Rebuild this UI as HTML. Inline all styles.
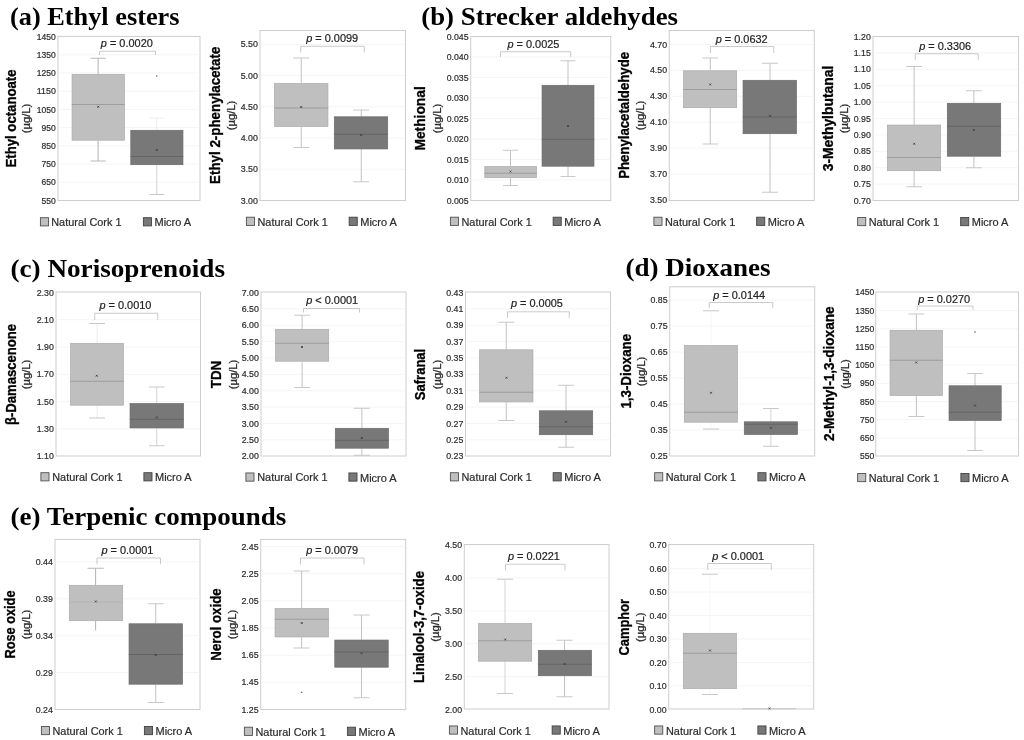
<!DOCTYPE html>
<html lang="en">
<head>
<meta charset="utf-8">
<title>Volatile compounds box plots</title>
<style>
html,body{margin:0;padding:0;background:#fff;}
body{width:1024px;height:740px;overflow:hidden;font-family:"Liberation Sans",sans-serif;}
svg{display:block;filter:blur(0.4px);}
svg text{font-family:"Liberation Sans",sans-serif;}
svg text.ttl{font-family:"Liberation Serif",serif;}
</style>
</head>
<body>
<svg width="1024" height="740" viewBox="0 0 1024 740">
<rect x="0" y="0" width="1024" height="740" fill="#ffffff"/>
<g>
<rect x="58" y="36.4" width="142" height="164.1" fill="#fff" stroke="#cdcdcd" stroke-width="1"/>
<text x="55.8" y="39.62" font-size="9" fill="#2c2c2c" stroke="#2c2c2c" stroke-width="0.2" text-anchor="end" textLength="19" lengthAdjust="spacingAndGlyphs">1450</text>
<line x1="58.5" y1="54.72" x2="199.5" y2="54.72" stroke="#f3f3f3" stroke-width="0.8"/>
<text x="55.8" y="57.84" font-size="9" fill="#2c2c2c" stroke="#2c2c2c" stroke-width="0.2" text-anchor="end" textLength="19" lengthAdjust="spacingAndGlyphs">1350</text>
<line x1="58.5" y1="72.94" x2="199.5" y2="72.94" stroke="#f3f3f3" stroke-width="0.8"/>
<text x="55.8" y="76.07" font-size="9" fill="#2c2c2c" stroke="#2c2c2c" stroke-width="0.2" text-anchor="end" textLength="19" lengthAdjust="spacingAndGlyphs">1250</text>
<line x1="58.5" y1="91.17" x2="199.5" y2="91.17" stroke="#f3f3f3" stroke-width="0.8"/>
<text x="55.8" y="94.29" font-size="9" fill="#2c2c2c" stroke="#2c2c2c" stroke-width="0.2" text-anchor="end" textLength="19" lengthAdjust="spacingAndGlyphs">1150</text>
<line x1="58.5" y1="109.39" x2="199.5" y2="109.39" stroke="#f3f3f3" stroke-width="0.8"/>
<text x="55.8" y="112.51" font-size="9" fill="#2c2c2c" stroke="#2c2c2c" stroke-width="0.2" text-anchor="end" textLength="19" lengthAdjust="spacingAndGlyphs">1050</text>
<line x1="58.5" y1="127.61" x2="199.5" y2="127.61" stroke="#f3f3f3" stroke-width="0.8"/>
<text x="55.8" y="130.73" font-size="9" fill="#2c2c2c" stroke="#2c2c2c" stroke-width="0.2" text-anchor="end" textLength="14.25" lengthAdjust="spacingAndGlyphs">950</text>
<line x1="58.5" y1="145.83" x2="199.5" y2="145.83" stroke="#f3f3f3" stroke-width="0.8"/>
<text x="55.8" y="148.96" font-size="9" fill="#2c2c2c" stroke="#2c2c2c" stroke-width="0.2" text-anchor="end" textLength="14.25" lengthAdjust="spacingAndGlyphs">850</text>
<line x1="58.5" y1="164.06" x2="199.5" y2="164.06" stroke="#f3f3f3" stroke-width="0.8"/>
<text x="55.8" y="167.18" font-size="9" fill="#2c2c2c" stroke="#2c2c2c" stroke-width="0.2" text-anchor="end" textLength="14.25" lengthAdjust="spacingAndGlyphs">750</text>
<line x1="58.5" y1="182.28" x2="199.5" y2="182.28" stroke="#f3f3f3" stroke-width="0.8"/>
<text x="55.8" y="185.4" font-size="9" fill="#2c2c2c" stroke="#2c2c2c" stroke-width="0.2" text-anchor="end" textLength="14.25" lengthAdjust="spacingAndGlyphs">650</text>
<text x="55.8" y="203.62" font-size="9" fill="#2c2c2c" stroke="#2c2c2c" stroke-width="0.2" text-anchor="end" textLength="14.25" lengthAdjust="spacingAndGlyphs">550</text>
<line x1="98.12" y1="58.25" x2="98.12" y2="74" stroke="#b2b2b2" stroke-width="1"/>
<line x1="98.12" y1="140.5" x2="98.12" y2="161" stroke="#b2b2b2" stroke-width="1"/>
<line x1="90.5" y1="58.25" x2="105.75" y2="58.25" stroke="#b2b2b2" stroke-width="0.9"/>
<line x1="90.5" y1="161" x2="105.75" y2="161" stroke="#b2b2b2" stroke-width="0.9"/>
<rect x="72.05" y="74.3" width="52.4" height="65.9" fill="#bfbfbf" stroke="#ababab" stroke-width="0.7"/>
<line x1="71.75" y1="104.5" x2="124.75" y2="104.5" stroke="#959595" stroke-width="0.8"/>
<path d="M97.35 105.85L99.15 107.65M97.35 107.65L99.15 105.85" stroke="#3a3a3a" stroke-width="0.85" fill="none"/>
<line x1="156.75" y1="118" x2="156.75" y2="130" stroke="#ececec" stroke-width="1"/>
<line x1="156.75" y1="165" x2="156.75" y2="194.5" stroke="#d4d4d4" stroke-width="1"/>
<line x1="149.25" y1="118" x2="164.25" y2="118" stroke="#ececec" stroke-width="0.9"/>
<line x1="149.25" y1="194.5" x2="164.25" y2="194.5" stroke="#c2c2c2" stroke-width="0.9"/>
<rect x="130.8" y="130.3" width="52.15" height="34.4" fill="#787878" stroke="#6a6a6a" stroke-width="0.7"/>
<line x1="130.5" y1="156.5" x2="183.25" y2="156.5" stroke="#5f5f5f" stroke-width="0.8"/>
<path d="M155.85 149.1L157.65 150.9M155.85 150.9L157.65 149.1" stroke="#3a3a3a" stroke-width="0.85" fill="none"/>
<circle cx="156.75" cy="76" r="0.75" fill="#555"/>
<path d="M99.5 55V51.25H155.5V55" fill="none" stroke="#b8b8b8" stroke-width="0.75"/>
<text x="126.8" y="46.7" font-size="10.8" fill="#222222" stroke="#222" stroke-width="0.2" text-anchor="middle" textLength="52" lengthAdjust="spacingAndGlyphs"><tspan font-style="italic">p</tspan> = 0.0020</text>
<text transform="translate(15.5 118.5) rotate(-90)" font-size="13.8" font-weight="bold" fill="#000" stroke="#000" stroke-width="0.3" text-anchor="middle" textLength="97.9" lengthAdjust="spacingAndGlyphs">Ethyl octanoate</text>
<text transform="translate(30.1 118.5) rotate(-90)" font-size="11.6" fill="#2a2a2a" stroke="#2a2a2a" stroke-width="0.3" text-anchor="middle" textLength="29.6" lengthAdjust="spacingAndGlyphs">(µg/L)</text>
<rect x="40.4" y="217.7" width="8.1" height="8.2" fill="#bfbfbf" stroke="#505050" stroke-width="0.9"/>
<text x="51.25" y="226" font-size="10.6" fill="#2c2c2c" stroke="#2c2c2c" stroke-width="0.2" textLength="70.2" lengthAdjust="spacingAndGlyphs">Natural Cork 1</text>
<rect x="143.4" y="217.7" width="8.1" height="8.2" fill="#787878" stroke="#424242" stroke-width="0.9"/>
<text x="154.5" y="226.4" font-size="10.6" fill="#2c2c2c" stroke="#2c2c2c" stroke-width="0.2" textLength="36.7" lengthAdjust="spacingAndGlyphs">Micro A</text>
</g>
<g>
<rect x="260" y="30.5" width="145.5" height="170" fill="#fff" stroke="#cdcdcd" stroke-width="1"/>
<line x1="260.5" y1="44.25" x2="405" y2="44.25" stroke="#f3f3f3" stroke-width="0.8"/>
<text x="257.8" y="47.37" font-size="9" fill="#2c2c2c" stroke="#2c2c2c" stroke-width="0.2" text-anchor="end" textLength="17.15" lengthAdjust="spacingAndGlyphs">5.50</text>
<line x1="260.5" y1="75.5" x2="405" y2="75.5" stroke="#f3f3f3" stroke-width="0.8"/>
<text x="257.8" y="78.62" font-size="9" fill="#2c2c2c" stroke="#2c2c2c" stroke-width="0.2" text-anchor="end" textLength="17.15" lengthAdjust="spacingAndGlyphs">5.00</text>
<line x1="260.5" y1="106.75" x2="405" y2="106.75" stroke="#f3f3f3" stroke-width="0.8"/>
<text x="257.8" y="109.87" font-size="9" fill="#2c2c2c" stroke="#2c2c2c" stroke-width="0.2" text-anchor="end" textLength="17.15" lengthAdjust="spacingAndGlyphs">4.50</text>
<line x1="260.5" y1="138" x2="405" y2="138" stroke="#f3f3f3" stroke-width="0.8"/>
<text x="257.8" y="141.12" font-size="9" fill="#2c2c2c" stroke="#2c2c2c" stroke-width="0.2" text-anchor="end" textLength="17.15" lengthAdjust="spacingAndGlyphs">4.00</text>
<line x1="260.5" y1="169.25" x2="405" y2="169.25" stroke="#f3f3f3" stroke-width="0.8"/>
<text x="257.8" y="172.37" font-size="9" fill="#2c2c2c" stroke="#2c2c2c" stroke-width="0.2" text-anchor="end" textLength="17.15" lengthAdjust="spacingAndGlyphs">3.50</text>
<text x="257.8" y="203.62" font-size="9" fill="#2c2c2c" stroke="#2c2c2c" stroke-width="0.2" text-anchor="end" textLength="17.15" lengthAdjust="spacingAndGlyphs">3.00</text>
<line x1="301.25" y1="58" x2="301.25" y2="83.25" stroke="#c2c2c2" stroke-width="1"/>
<line x1="301.25" y1="126.75" x2="301.25" y2="147.5" stroke="#c2c2c2" stroke-width="1"/>
<line x1="293.25" y1="58" x2="309.25" y2="58" stroke="#c2c2c2" stroke-width="0.9"/>
<line x1="293.25" y1="147.5" x2="309.25" y2="147.5" stroke="#c2c2c2" stroke-width="0.9"/>
<rect x="274.55" y="83.55" width="53.4" height="42.9" fill="#bfbfbf" stroke="#ababab" stroke-width="0.7"/>
<line x1="274.25" y1="108" x2="328.25" y2="108" stroke="#959595" stroke-width="0.8"/>
<path d="M300.35 106.1L302.15 107.9M300.35 107.9L302.15 106.1" stroke="#3a3a3a" stroke-width="0.85" fill="none"/>
<line x1="361.25" y1="110" x2="361.25" y2="116.5" stroke="#c2c2c2" stroke-width="1"/>
<line x1="361.25" y1="149.25" x2="361.25" y2="181.75" stroke="#c2c2c2" stroke-width="1"/>
<line x1="353.25" y1="110" x2="369.25" y2="110" stroke="#c2c2c2" stroke-width="0.9"/>
<line x1="353.25" y1="181.75" x2="369.25" y2="181.75" stroke="#c2c2c2" stroke-width="0.9"/>
<rect x="334.3" y="116.8" width="53.4" height="32.15" fill="#787878" stroke="#6a6a6a" stroke-width="0.7"/>
<line x1="334" y1="134.25" x2="388" y2="134.25" stroke="#5f5f5f" stroke-width="0.8"/>
<path d="M360.35 134.1L362.15 135.9M360.35 135.9L362.15 134.1" stroke="#3a3a3a" stroke-width="0.85" fill="none"/>
<path d="M300.75 52.5V46.25H364.25V52.5" fill="none" stroke="#b8b8b8" stroke-width="0.75"/>
<text x="332.15" y="42.2" font-size="10.8" fill="#222222" stroke="#222" stroke-width="0.2" text-anchor="middle" textLength="52" lengthAdjust="spacingAndGlyphs"><tspan font-style="italic">p</tspan> = 0.0099</text>
<text transform="translate(219.6 115.3) rotate(-90)" font-size="13.8" font-weight="bold" fill="#000" stroke="#000" stroke-width="0.3" text-anchor="middle" textLength="137.2" lengthAdjust="spacingAndGlyphs">Ethyl 2-phenylacetate</text>
<text transform="translate(235.45 115.5) rotate(-90)" font-size="11.6" fill="#2a2a2a" stroke="#2a2a2a" stroke-width="0.3" text-anchor="middle" textLength="29.6" lengthAdjust="spacingAndGlyphs">(µg/L)</text>
<rect x="246.4" y="217.2" width="8.1" height="8.2" fill="#bfbfbf" stroke="#505050" stroke-width="0.9"/>
<text x="257.5" y="225.7" font-size="10.6" fill="#2c2c2c" stroke="#2c2c2c" stroke-width="0.2" textLength="70.2" lengthAdjust="spacingAndGlyphs">Natural Cork 1</text>
<rect x="349.15" y="217.2" width="8.1" height="8.2" fill="#787878" stroke="#424242" stroke-width="0.9"/>
<text x="360.25" y="226.1" font-size="10.6" fill="#2c2c2c" stroke="#2c2c2c" stroke-width="0.2" textLength="36.7" lengthAdjust="spacingAndGlyphs">Micro A</text>
</g>
<g>
<rect x="470.75" y="36.5" width="140" height="164" fill="#fff" stroke="#cdcdcd" stroke-width="1"/>
<text x="468.55" y="39.62" font-size="9" fill="#2c2c2c" stroke="#2c2c2c" stroke-width="0.2" text-anchor="end" textLength="21.9" lengthAdjust="spacingAndGlyphs">0.045</text>
<line x1="471.25" y1="57" x2="610.25" y2="57" stroke="#f3f3f3" stroke-width="0.8"/>
<text x="468.55" y="60.12" font-size="9" fill="#2c2c2c" stroke="#2c2c2c" stroke-width="0.2" text-anchor="end" textLength="21.9" lengthAdjust="spacingAndGlyphs">0.040</text>
<line x1="471.25" y1="77.5" x2="610.25" y2="77.5" stroke="#f3f3f3" stroke-width="0.8"/>
<text x="468.55" y="80.62" font-size="9" fill="#2c2c2c" stroke="#2c2c2c" stroke-width="0.2" text-anchor="end" textLength="21.9" lengthAdjust="spacingAndGlyphs">0.035</text>
<line x1="471.25" y1="98" x2="610.25" y2="98" stroke="#f3f3f3" stroke-width="0.8"/>
<text x="468.55" y="101.12" font-size="9" fill="#2c2c2c" stroke="#2c2c2c" stroke-width="0.2" text-anchor="end" textLength="21.9" lengthAdjust="spacingAndGlyphs">0.030</text>
<line x1="471.25" y1="118.5" x2="610.25" y2="118.5" stroke="#f3f3f3" stroke-width="0.8"/>
<text x="468.55" y="121.62" font-size="9" fill="#2c2c2c" stroke="#2c2c2c" stroke-width="0.2" text-anchor="end" textLength="21.9" lengthAdjust="spacingAndGlyphs">0.025</text>
<line x1="471.25" y1="139" x2="610.25" y2="139" stroke="#f3f3f3" stroke-width="0.8"/>
<text x="468.55" y="142.12" font-size="9" fill="#2c2c2c" stroke="#2c2c2c" stroke-width="0.2" text-anchor="end" textLength="21.9" lengthAdjust="spacingAndGlyphs">0.020</text>
<line x1="471.25" y1="159.5" x2="610.25" y2="159.5" stroke="#f3f3f3" stroke-width="0.8"/>
<text x="468.55" y="162.62" font-size="9" fill="#2c2c2c" stroke="#2c2c2c" stroke-width="0.2" text-anchor="end" textLength="21.9" lengthAdjust="spacingAndGlyphs">0.015</text>
<line x1="471.25" y1="180" x2="610.25" y2="180" stroke="#f3f3f3" stroke-width="0.8"/>
<text x="468.55" y="183.12" font-size="9" fill="#2c2c2c" stroke="#2c2c2c" stroke-width="0.2" text-anchor="end" textLength="21.9" lengthAdjust="spacingAndGlyphs">0.010</text>
<text x="468.55" y="203.62" font-size="9" fill="#2c2c2c" stroke="#2c2c2c" stroke-width="0.2" text-anchor="end" textLength="21.9" lengthAdjust="spacingAndGlyphs">0.005</text>
<line x1="510.5" y1="150.25" x2="510.5" y2="166.25" stroke="#c2c2c2" stroke-width="1"/>
<line x1="510.5" y1="178" x2="510.5" y2="185.5" stroke="#c2c2c2" stroke-width="1"/>
<line x1="503" y1="150.25" x2="518" y2="150.25" stroke="#c2c2c2" stroke-width="0.9"/>
<line x1="503" y1="185.5" x2="518" y2="185.5" stroke="#c2c2c2" stroke-width="0.9"/>
<rect x="484.8" y="166.55" width="51.65" height="11.15" fill="#bfbfbf" stroke="#ababab" stroke-width="0.7"/>
<line x1="484.5" y1="173.25" x2="536.75" y2="173.25" stroke="#959595" stroke-width="0.8"/>
<path d="M509.6 170.6L511.4 172.4M509.6 172.4L511.4 170.6" stroke="#3a3a3a" stroke-width="0.85" fill="none"/>
<line x1="568" y1="60.75" x2="568" y2="85" stroke="#c2c2c2" stroke-width="1"/>
<line x1="568" y1="166.5" x2="568" y2="176.5" stroke="#c2c2c2" stroke-width="1"/>
<line x1="560.5" y1="60.75" x2="575.5" y2="60.75" stroke="#c2c2c2" stroke-width="0.9"/>
<line x1="560.5" y1="176.5" x2="575.5" y2="176.5" stroke="#c2c2c2" stroke-width="0.9"/>
<rect x="542.05" y="85.3" width="51.9" height="80.9" fill="#787878" stroke="#6a6a6a" stroke-width="0.7"/>
<line x1="541.75" y1="139.25" x2="594.25" y2="139.25" stroke="#5f5f5f" stroke-width="0.8"/>
<path d="M567.1 125.1L568.9 126.9M567.1 126.9L568.9 125.1" stroke="#3a3a3a" stroke-width="0.85" fill="none"/>
<path d="M500.5 57V51.75H570.75V57" fill="none" stroke="#b8b8b8" stroke-width="0.75"/>
<text x="533.4" y="48.4" font-size="10.8" fill="#222222" stroke="#222" stroke-width="0.2" text-anchor="middle" textLength="52" lengthAdjust="spacingAndGlyphs"><tspan font-style="italic">p</tspan> = 0.0025</text>
<text transform="translate(425.1 118.4) rotate(-90)" font-size="13.8" font-weight="bold" fill="#000" stroke="#000" stroke-width="0.3" text-anchor="middle" textLength="64.45" lengthAdjust="spacingAndGlyphs">Methional</text>
<text transform="translate(440.95 118.5) rotate(-90)" font-size="11.6" fill="#2a2a2a" stroke="#2a2a2a" stroke-width="0.3" text-anchor="middle" textLength="29.6" lengthAdjust="spacingAndGlyphs">(µg/L)</text>
<rect x="450.4" y="217.2" width="8.1" height="8.2" fill="#bfbfbf" stroke="#505050" stroke-width="0.9"/>
<text x="461.5" y="225.7" font-size="10.6" fill="#2c2c2c" stroke="#2c2c2c" stroke-width="0.2" textLength="70.2" lengthAdjust="spacingAndGlyphs">Natural Cork 1</text>
<rect x="553.15" y="217.2" width="8.1" height="8.2" fill="#787878" stroke="#424242" stroke-width="0.9"/>
<text x="564.25" y="226.1" font-size="10.6" fill="#2c2c2c" stroke="#2c2c2c" stroke-width="0.2" textLength="36.7" lengthAdjust="spacingAndGlyphs">Micro A</text>
</g>
<g>
<rect x="669.25" y="30.5" width="145" height="170" fill="#fff" stroke="#cdcdcd" stroke-width="1"/>
<line x1="669.75" y1="44.4" x2="813.75" y2="44.4" stroke="#f3f3f3" stroke-width="0.8"/>
<text x="667.05" y="47.52" font-size="9" fill="#2c2c2c" stroke="#2c2c2c" stroke-width="0.2" text-anchor="end" textLength="17.15" lengthAdjust="spacingAndGlyphs">4.70</text>
<line x1="669.75" y1="70.33" x2="813.75" y2="70.33" stroke="#f3f3f3" stroke-width="0.8"/>
<text x="667.05" y="73.46" font-size="9" fill="#2c2c2c" stroke="#2c2c2c" stroke-width="0.2" text-anchor="end" textLength="17.15" lengthAdjust="spacingAndGlyphs">4.50</text>
<line x1="669.75" y1="96.27" x2="813.75" y2="96.27" stroke="#f3f3f3" stroke-width="0.8"/>
<text x="667.05" y="99.39" font-size="9" fill="#2c2c2c" stroke="#2c2c2c" stroke-width="0.2" text-anchor="end" textLength="17.15" lengthAdjust="spacingAndGlyphs">4.30</text>
<line x1="669.75" y1="122.2" x2="813.75" y2="122.2" stroke="#f3f3f3" stroke-width="0.8"/>
<text x="667.05" y="125.32" font-size="9" fill="#2c2c2c" stroke="#2c2c2c" stroke-width="0.2" text-anchor="end" textLength="17.15" lengthAdjust="spacingAndGlyphs">4.10</text>
<line x1="669.75" y1="148.13" x2="813.75" y2="148.13" stroke="#f3f3f3" stroke-width="0.8"/>
<text x="667.05" y="151.26" font-size="9" fill="#2c2c2c" stroke="#2c2c2c" stroke-width="0.2" text-anchor="end" textLength="17.15" lengthAdjust="spacingAndGlyphs">3.90</text>
<line x1="669.75" y1="174.07" x2="813.75" y2="174.07" stroke="#f3f3f3" stroke-width="0.8"/>
<text x="667.05" y="177.19" font-size="9" fill="#2c2c2c" stroke="#2c2c2c" stroke-width="0.2" text-anchor="end" textLength="17.15" lengthAdjust="spacingAndGlyphs">3.70</text>
<text x="667.05" y="203.12" font-size="9" fill="#2c2c2c" stroke="#2c2c2c" stroke-width="0.2" text-anchor="end" textLength="17.15" lengthAdjust="spacingAndGlyphs">3.50</text>
<line x1="710.25" y1="58" x2="710.25" y2="70.5" stroke="#c2c2c2" stroke-width="1"/>
<line x1="710.25" y1="108" x2="710.25" y2="144" stroke="#c2c2c2" stroke-width="1"/>
<line x1="702.5" y1="58" x2="718" y2="58" stroke="#c2c2c2" stroke-width="0.9"/>
<line x1="702.5" y1="144" x2="718" y2="144" stroke="#c2c2c2" stroke-width="0.9"/>
<rect x="683.55" y="70.8" width="53.15" height="36.9" fill="#bfbfbf" stroke="#ababab" stroke-width="0.7"/>
<line x1="683.25" y1="89.5" x2="737" y2="89.5" stroke="#959595" stroke-width="0.8"/>
<path d="M709.35 83.6L711.15 85.4M709.35 85.4L711.15 83.6" stroke="#3a3a3a" stroke-width="0.85" fill="none"/>
<line x1="770" y1="63.25" x2="770" y2="80" stroke="#c2c2c2" stroke-width="1"/>
<line x1="770" y1="134" x2="770" y2="192.25" stroke="#c2c2c2" stroke-width="1"/>
<line x1="762" y1="63.25" x2="778" y2="63.25" stroke="#c2c2c2" stroke-width="0.9"/>
<line x1="762" y1="192.25" x2="778" y2="192.25" stroke="#c2c2c2" stroke-width="0.9"/>
<rect x="743.05" y="80.3" width="53.4" height="53.4" fill="#787878" stroke="#6a6a6a" stroke-width="0.7"/>
<line x1="742.75" y1="117" x2="796.75" y2="117" stroke="#5f5f5f" stroke-width="0.8"/>
<path d="M769.1 114.85L770.9 116.65M769.1 116.65L770.9 114.85" stroke="#3a3a3a" stroke-width="0.85" fill="none"/>
<path d="M710.5 53V46.5H773.75V53" fill="none" stroke="#b8b8b8" stroke-width="0.75"/>
<text x="741.65" y="43.4" font-size="10.8" fill="#222222" stroke="#222" stroke-width="0.2" text-anchor="middle" textLength="52" lengthAdjust="spacingAndGlyphs"><tspan font-style="italic">p</tspan> = 0.0632</text>
<text transform="translate(628.9 115.4) rotate(-90)" font-size="13.8" font-weight="bold" fill="#000" stroke="#000" stroke-width="0.3" text-anchor="middle" textLength="126.95" lengthAdjust="spacingAndGlyphs">Phenylacetaldehyde</text>
<text transform="translate(644.2 115.5) rotate(-90)" font-size="11.6" fill="#2a2a2a" stroke="#2a2a2a" stroke-width="0.3" text-anchor="middle" textLength="29.6" lengthAdjust="spacingAndGlyphs">(µg/L)</text>
<rect x="653.9" y="217.2" width="8.1" height="8.2" fill="#bfbfbf" stroke="#505050" stroke-width="0.9"/>
<text x="665" y="225.7" font-size="10.6" fill="#2c2c2c" stroke="#2c2c2c" stroke-width="0.2" textLength="70.2" lengthAdjust="spacingAndGlyphs">Natural Cork 1</text>
<rect x="756.65" y="217.2" width="8.1" height="8.2" fill="#787878" stroke="#424242" stroke-width="0.9"/>
<text x="767.75" y="226.1" font-size="10.6" fill="#2c2c2c" stroke="#2c2c2c" stroke-width="0.2" textLength="36.7" lengthAdjust="spacingAndGlyphs">Micro A</text>
</g>
<g>
<rect x="873" y="36.5" width="145.5" height="164" fill="#fff" stroke="#cdcdcd" stroke-width="1"/>
<text x="870.8" y="39.62" font-size="9" fill="#2c2c2c" stroke="#2c2c2c" stroke-width="0.2" text-anchor="end" textLength="17.15" lengthAdjust="spacingAndGlyphs">1.20</text>
<line x1="873.5" y1="52.9" x2="1018" y2="52.9" stroke="#f3f3f3" stroke-width="0.8"/>
<text x="870.8" y="56.02" font-size="9" fill="#2c2c2c" stroke="#2c2c2c" stroke-width="0.2" text-anchor="end" textLength="17.15" lengthAdjust="spacingAndGlyphs">1.15</text>
<line x1="873.5" y1="69.3" x2="1018" y2="69.3" stroke="#f3f3f3" stroke-width="0.8"/>
<text x="870.8" y="72.42" font-size="9" fill="#2c2c2c" stroke="#2c2c2c" stroke-width="0.2" text-anchor="end" textLength="17.15" lengthAdjust="spacingAndGlyphs">1.10</text>
<line x1="873.5" y1="85.7" x2="1018" y2="85.7" stroke="#f3f3f3" stroke-width="0.8"/>
<text x="870.8" y="88.82" font-size="9" fill="#2c2c2c" stroke="#2c2c2c" stroke-width="0.2" text-anchor="end" textLength="17.15" lengthAdjust="spacingAndGlyphs">1.05</text>
<line x1="873.5" y1="102.1" x2="1018" y2="102.1" stroke="#f3f3f3" stroke-width="0.8"/>
<text x="870.8" y="105.22" font-size="9" fill="#2c2c2c" stroke="#2c2c2c" stroke-width="0.2" text-anchor="end" textLength="17.15" lengthAdjust="spacingAndGlyphs">1.00</text>
<line x1="873.5" y1="118.5" x2="1018" y2="118.5" stroke="#f3f3f3" stroke-width="0.8"/>
<text x="870.8" y="121.62" font-size="9" fill="#2c2c2c" stroke="#2c2c2c" stroke-width="0.2" text-anchor="end" textLength="17.15" lengthAdjust="spacingAndGlyphs">0.95</text>
<line x1="873.5" y1="134.9" x2="1018" y2="134.9" stroke="#f3f3f3" stroke-width="0.8"/>
<text x="870.8" y="138.02" font-size="9" fill="#2c2c2c" stroke="#2c2c2c" stroke-width="0.2" text-anchor="end" textLength="17.15" lengthAdjust="spacingAndGlyphs">0.90</text>
<line x1="873.5" y1="151.3" x2="1018" y2="151.3" stroke="#f3f3f3" stroke-width="0.8"/>
<text x="870.8" y="154.42" font-size="9" fill="#2c2c2c" stroke="#2c2c2c" stroke-width="0.2" text-anchor="end" textLength="17.15" lengthAdjust="spacingAndGlyphs">0.85</text>
<line x1="873.5" y1="167.7" x2="1018" y2="167.7" stroke="#f3f3f3" stroke-width="0.8"/>
<text x="870.8" y="170.82" font-size="9" fill="#2c2c2c" stroke="#2c2c2c" stroke-width="0.2" text-anchor="end" textLength="17.15" lengthAdjust="spacingAndGlyphs">0.80</text>
<line x1="873.5" y1="184.1" x2="1018" y2="184.1" stroke="#f3f3f3" stroke-width="0.8"/>
<text x="870.8" y="187.22" font-size="9" fill="#2c2c2c" stroke="#2c2c2c" stroke-width="0.2" text-anchor="end" textLength="17.15" lengthAdjust="spacingAndGlyphs">0.75</text>
<text x="870.8" y="203.62" font-size="9" fill="#2c2c2c" stroke="#2c2c2c" stroke-width="0.2" text-anchor="end" textLength="17.15" lengthAdjust="spacingAndGlyphs">0.70</text>
<line x1="914.12" y1="66.5" x2="914.12" y2="124.75" stroke="#c2c2c2" stroke-width="1"/>
<line x1="914.12" y1="171" x2="914.12" y2="186.75" stroke="#c2c2c2" stroke-width="1"/>
<line x1="906.25" y1="66.5" x2="922" y2="66.5" stroke="#c2c2c2" stroke-width="0.9"/>
<line x1="906.25" y1="186.75" x2="922" y2="186.75" stroke="#c2c2c2" stroke-width="0.9"/>
<rect x="887.3" y="125.05" width="53.4" height="45.65" fill="#bfbfbf" stroke="#ababab" stroke-width="0.7"/>
<line x1="887" y1="157.5" x2="941" y2="157.5" stroke="#959595" stroke-width="0.8"/>
<path d="M913.35 142.85L915.15 144.65M913.35 144.65L915.15 142.85" stroke="#3a3a3a" stroke-width="0.85" fill="none"/>
<line x1="973.88" y1="90.75" x2="973.88" y2="103" stroke="#c2c2c2" stroke-width="1"/>
<line x1="973.88" y1="156.5" x2="973.88" y2="167.75" stroke="#c2c2c2" stroke-width="1"/>
<line x1="966" y1="90.75" x2="981.75" y2="90.75" stroke="#c2c2c2" stroke-width="0.9"/>
<line x1="966" y1="167.75" x2="981.75" y2="167.75" stroke="#c2c2c2" stroke-width="0.9"/>
<rect x="947.3" y="103.3" width="53.4" height="52.9" fill="#787878" stroke="#6a6a6a" stroke-width="0.7"/>
<line x1="947" y1="126.25" x2="1001" y2="126.25" stroke="#5f5f5f" stroke-width="0.8"/>
<path d="M972.85 129.1L974.65 130.9M972.85 130.9L974.65 129.1" stroke="#3a3a3a" stroke-width="0.85" fill="none"/>
<path d="M915.25 60.25V53.75H978.25V60.25" fill="none" stroke="#b8b8b8" stroke-width="0.75"/>
<text x="945.15" y="49.95" font-size="10.8" fill="#222222" stroke="#222" stroke-width="0.2" text-anchor="middle" textLength="52" lengthAdjust="spacingAndGlyphs"><tspan font-style="italic">p</tspan> = 0.3306</text>
<text transform="translate(833.35 118.5) rotate(-90)" font-size="13.8" font-weight="bold" fill="#000" stroke="#000" stroke-width="0.3" text-anchor="middle" textLength="105.7" lengthAdjust="spacingAndGlyphs">3-Methylbutanal</text>
<text transform="translate(847.95 118.5) rotate(-90)" font-size="11.6" fill="#2a2a2a" stroke="#2a2a2a" stroke-width="0.3" text-anchor="middle" textLength="29.6" lengthAdjust="spacingAndGlyphs">(µg/L)</text>
<rect x="857.65" y="217.45" width="8.1" height="8.2" fill="#bfbfbf" stroke="#505050" stroke-width="0.9"/>
<text x="868.75" y="226" font-size="10.6" fill="#2c2c2c" stroke="#2c2c2c" stroke-width="0.2" textLength="70.2" lengthAdjust="spacingAndGlyphs">Natural Cork 1</text>
<rect x="960.65" y="217.45" width="8.1" height="8.2" fill="#787878" stroke="#424242" stroke-width="0.9"/>
<text x="971.75" y="226.4" font-size="10.6" fill="#2c2c2c" stroke="#2c2c2c" stroke-width="0.2" textLength="36.7" lengthAdjust="spacingAndGlyphs">Micro A</text>
</g>
<g>
<rect x="56" y="292" width="144.5" height="164" fill="#fff" stroke="#cdcdcd" stroke-width="1"/>
<text x="53.8" y="295.62" font-size="9" fill="#2c2c2c" stroke="#2c2c2c" stroke-width="0.2" text-anchor="end" textLength="17.15" lengthAdjust="spacingAndGlyphs">2.30</text>
<line x1="56.5" y1="319.78" x2="200" y2="319.78" stroke="#f3f3f3" stroke-width="0.8"/>
<text x="53.8" y="322.91" font-size="9" fill="#2c2c2c" stroke="#2c2c2c" stroke-width="0.2" text-anchor="end" textLength="17.15" lengthAdjust="spacingAndGlyphs">2.10</text>
<line x1="56.5" y1="347.07" x2="200" y2="347.07" stroke="#f3f3f3" stroke-width="0.8"/>
<text x="53.8" y="350.19" font-size="9" fill="#2c2c2c" stroke="#2c2c2c" stroke-width="0.2" text-anchor="end" textLength="17.15" lengthAdjust="spacingAndGlyphs">1.90</text>
<line x1="56.5" y1="374.35" x2="200" y2="374.35" stroke="#f3f3f3" stroke-width="0.8"/>
<text x="53.8" y="377.47" font-size="9" fill="#2c2c2c" stroke="#2c2c2c" stroke-width="0.2" text-anchor="end" textLength="17.15" lengthAdjust="spacingAndGlyphs">1.70</text>
<line x1="56.5" y1="401.63" x2="200" y2="401.63" stroke="#f3f3f3" stroke-width="0.8"/>
<text x="53.8" y="404.76" font-size="9" fill="#2c2c2c" stroke="#2c2c2c" stroke-width="0.2" text-anchor="end" textLength="17.15" lengthAdjust="spacingAndGlyphs">1.50</text>
<line x1="56.5" y1="428.92" x2="200" y2="428.92" stroke="#f3f3f3" stroke-width="0.8"/>
<text x="53.8" y="432.04" font-size="9" fill="#2c2c2c" stroke="#2c2c2c" stroke-width="0.2" text-anchor="end" textLength="17.15" lengthAdjust="spacingAndGlyphs">1.30</text>
<text x="53.8" y="459.32" font-size="9" fill="#2c2c2c" stroke="#2c2c2c" stroke-width="0.2" text-anchor="end" textLength="17.15" lengthAdjust="spacingAndGlyphs">1.10</text>
<line x1="97.12" y1="323.5" x2="97.12" y2="343" stroke="#ececec" stroke-width="1"/>
<line x1="97.12" y1="405.5" x2="97.12" y2="418" stroke="#ececec" stroke-width="1"/>
<line x1="89.25" y1="323.5" x2="105" y2="323.5" stroke="#c2c2c2" stroke-width="0.9"/>
<line x1="89.25" y1="418" x2="105" y2="418" stroke="#c2c2c2" stroke-width="0.9"/>
<rect x="70.55" y="343.3" width="52.9" height="61.9" fill="#bfbfbf" stroke="#ababab" stroke-width="0.7"/>
<line x1="70.25" y1="381.25" x2="123.75" y2="381.25" stroke="#959595" stroke-width="0.8"/>
<path d="M95.85 374.85L97.65 376.65M95.85 376.65L97.65 374.85" stroke="#3a3a3a" stroke-width="0.85" fill="none"/>
<line x1="156.75" y1="387" x2="156.75" y2="403.25" stroke="#d4d4d4" stroke-width="1"/>
<line x1="156.75" y1="428.25" x2="156.75" y2="445.75" stroke="#d4d4d4" stroke-width="1"/>
<line x1="149" y1="387" x2="164.5" y2="387" stroke="#c2c2c2" stroke-width="0.9"/>
<line x1="149" y1="445.75" x2="164.5" y2="445.75" stroke="#c2c2c2" stroke-width="0.9"/>
<rect x="130.05" y="403.55" width="53.4" height="24.4" fill="#787878" stroke="#6a6a6a" stroke-width="0.7"/>
<line x1="129.75" y1="419.25" x2="183.75" y2="419.25" stroke="#5f5f5f" stroke-width="0.8"/>
<path d="M155.85 416.6L157.65 418.4M155.85 418.4L157.65 416.6" stroke="#3a3a3a" stroke-width="0.85" fill="none"/>
<path d="M94.75 320V313.25H157.75V320" fill="none" stroke="#b8b8b8" stroke-width="0.75"/>
<text x="125.4" y="309.2" font-size="10.8" fill="#222222" stroke="#222" stroke-width="0.2" text-anchor="middle" textLength="52" lengthAdjust="spacingAndGlyphs"><tspan font-style="italic">p</tspan> = 0.0010</text>
<text transform="translate(15.85 374.5) rotate(-90)" font-size="13.8" font-weight="bold" fill="#000" stroke="#000" stroke-width="0.3" text-anchor="middle" textLength="101.2" lengthAdjust="spacingAndGlyphs">β-Damascenone</text>
<text transform="translate(30.3 374.5) rotate(-90)" font-size="11.6" fill="#2a2a2a" stroke="#2a2a2a" stroke-width="0.3" text-anchor="middle" textLength="29.6" lengthAdjust="spacingAndGlyphs">(µg/L)</text>
<rect x="40.9" y="472.7" width="8.1" height="8.2" fill="#bfbfbf" stroke="#505050" stroke-width="0.9"/>
<text x="52.25" y="481" font-size="10.6" fill="#2c2c2c" stroke="#2c2c2c" stroke-width="0.2" textLength="70.2" lengthAdjust="spacingAndGlyphs">Natural Cork 1</text>
<rect x="143.9" y="472.7" width="8.1" height="8.2" fill="#787878" stroke="#424242" stroke-width="0.9"/>
<text x="155" y="481.4" font-size="10.6" fill="#2c2c2c" stroke="#2c2c2c" stroke-width="0.2" textLength="36.7" lengthAdjust="spacingAndGlyphs">Micro A</text>
</g>
<g>
<rect x="261" y="292" width="145" height="164" fill="#fff" stroke="#cdcdcd" stroke-width="1"/>
<text x="258.8" y="295.62" font-size="9" fill="#2c2c2c" stroke="#2c2c2c" stroke-width="0.2" text-anchor="end" textLength="17.15" lengthAdjust="spacingAndGlyphs">7.00</text>
<line x1="261.5" y1="308.87" x2="405.5" y2="308.87" stroke="#f3f3f3" stroke-width="0.8"/>
<text x="258.8" y="311.99" font-size="9" fill="#2c2c2c" stroke="#2c2c2c" stroke-width="0.2" text-anchor="end" textLength="17.15" lengthAdjust="spacingAndGlyphs">6.50</text>
<line x1="261.5" y1="325.24" x2="405.5" y2="325.24" stroke="#f3f3f3" stroke-width="0.8"/>
<text x="258.8" y="328.36" font-size="9" fill="#2c2c2c" stroke="#2c2c2c" stroke-width="0.2" text-anchor="end" textLength="17.15" lengthAdjust="spacingAndGlyphs">6.00</text>
<line x1="261.5" y1="341.61" x2="405.5" y2="341.61" stroke="#f3f3f3" stroke-width="0.8"/>
<text x="258.8" y="344.73" font-size="9" fill="#2c2c2c" stroke="#2c2c2c" stroke-width="0.2" text-anchor="end" textLength="17.15" lengthAdjust="spacingAndGlyphs">5.50</text>
<line x1="261.5" y1="357.98" x2="405.5" y2="357.98" stroke="#f3f3f3" stroke-width="0.8"/>
<text x="258.8" y="361.1" font-size="9" fill="#2c2c2c" stroke="#2c2c2c" stroke-width="0.2" text-anchor="end" textLength="17.15" lengthAdjust="spacingAndGlyphs">5.00</text>
<line x1="261.5" y1="374.35" x2="405.5" y2="374.35" stroke="#f3f3f3" stroke-width="0.8"/>
<text x="258.8" y="377.47" font-size="9" fill="#2c2c2c" stroke="#2c2c2c" stroke-width="0.2" text-anchor="end" textLength="17.15" lengthAdjust="spacingAndGlyphs">4.50</text>
<line x1="261.5" y1="390.72" x2="405.5" y2="390.72" stroke="#f3f3f3" stroke-width="0.8"/>
<text x="258.8" y="393.84" font-size="9" fill="#2c2c2c" stroke="#2c2c2c" stroke-width="0.2" text-anchor="end" textLength="17.15" lengthAdjust="spacingAndGlyphs">4.00</text>
<line x1="261.5" y1="407.09" x2="405.5" y2="407.09" stroke="#f3f3f3" stroke-width="0.8"/>
<text x="258.8" y="410.21" font-size="9" fill="#2c2c2c" stroke="#2c2c2c" stroke-width="0.2" text-anchor="end" textLength="17.15" lengthAdjust="spacingAndGlyphs">3.50</text>
<line x1="261.5" y1="423.46" x2="405.5" y2="423.46" stroke="#f3f3f3" stroke-width="0.8"/>
<text x="258.8" y="426.58" font-size="9" fill="#2c2c2c" stroke="#2c2c2c" stroke-width="0.2" text-anchor="end" textLength="17.15" lengthAdjust="spacingAndGlyphs">3.00</text>
<line x1="261.5" y1="439.83" x2="405.5" y2="439.83" stroke="#f3f3f3" stroke-width="0.8"/>
<text x="258.8" y="442.95" font-size="9" fill="#2c2c2c" stroke="#2c2c2c" stroke-width="0.2" text-anchor="end" textLength="17.15" lengthAdjust="spacingAndGlyphs">2.50</text>
<text x="258.8" y="459.32" font-size="9" fill="#2c2c2c" stroke="#2c2c2c" stroke-width="0.2" text-anchor="end" textLength="17.15" lengthAdjust="spacingAndGlyphs">2.00</text>
<line x1="302.12" y1="315.25" x2="302.12" y2="329" stroke="#c2c2c2" stroke-width="1"/>
<line x1="302.12" y1="361.5" x2="302.12" y2="387.5" stroke="#c2c2c2" stroke-width="1"/>
<line x1="294.25" y1="315.25" x2="310" y2="315.25" stroke="#c2c2c2" stroke-width="0.9"/>
<line x1="294.25" y1="387.5" x2="310" y2="387.5" stroke="#c2c2c2" stroke-width="0.9"/>
<rect x="275.55" y="329.3" width="53.15" height="31.9" fill="#bfbfbf" stroke="#ababab" stroke-width="0.7"/>
<line x1="275.25" y1="343.25" x2="329" y2="343.25" stroke="#959595" stroke-width="0.8"/>
<path d="M301.1 346.1L302.9 347.9M301.1 347.9L302.9 346.1" stroke="#3a3a3a" stroke-width="0.85" fill="none"/>
<line x1="361.88" y1="408.25" x2="361.88" y2="428" stroke="#c2c2c2" stroke-width="1"/>
<line x1="361.88" y1="448.5" x2="361.88" y2="455.25" stroke="#c2c2c2" stroke-width="1"/>
<line x1="353.75" y1="408.25" x2="370" y2="408.25" stroke="#c2c2c2" stroke-width="0.9"/>
<line x1="353.75" y1="455.25" x2="370" y2="455.25" stroke="#c2c2c2" stroke-width="0.9"/>
<rect x="335.3" y="428.3" width="53.15" height="19.9" fill="#787878" stroke="#6a6a6a" stroke-width="0.7"/>
<line x1="335" y1="440.25" x2="388.75" y2="440.25" stroke="#5f5f5f" stroke-width="0.8"/>
<path d="M360.85 437.1L362.65 438.9M360.85 438.9L362.65 437.1" stroke="#3a3a3a" stroke-width="0.85" fill="none"/>
<path d="M303.5 312.5V308.5H359.5V312.5" fill="none" stroke="#b8b8b8" stroke-width="0.75"/>
<text x="332.15" y="304.2" font-size="10.8" fill="#222222" stroke="#222" stroke-width="0.2" text-anchor="middle" textLength="52" lengthAdjust="spacingAndGlyphs"><tspan font-style="italic">p</tspan> < 0.0001</text>
<text transform="translate(220.75 374.5) rotate(-90)" font-size="13.8" font-weight="bold" fill="#000" stroke="#000" stroke-width="0.3" text-anchor="middle" textLength="27.45" lengthAdjust="spacingAndGlyphs">TDN</text>
<text transform="translate(236.65 374.5) rotate(-90)" font-size="11.6" fill="#2a2a2a" stroke="#2a2a2a" stroke-width="0.3" text-anchor="middle" textLength="29.6" lengthAdjust="spacingAndGlyphs">(µg/L)</text>
<rect x="245.9" y="472.95" width="8.1" height="8.2" fill="#bfbfbf" stroke="#505050" stroke-width="0.9"/>
<text x="257.25" y="481.25" font-size="10.6" fill="#2c2c2c" stroke="#2c2c2c" stroke-width="0.2" textLength="70.2" lengthAdjust="spacingAndGlyphs">Natural Cork 1</text>
<rect x="348.9" y="472.95" width="8.1" height="8.2" fill="#787878" stroke="#424242" stroke-width="0.9"/>
<text x="360" y="481.65" font-size="10.6" fill="#2c2c2c" stroke="#2c2c2c" stroke-width="0.2" textLength="36.7" lengthAdjust="spacingAndGlyphs">Micro A</text>
</g>
<g>
<rect x="465.5" y="292" width="145" height="164" fill="#fff" stroke="#cdcdcd" stroke-width="1"/>
<text x="463.3" y="295.62" font-size="9" fill="#2c2c2c" stroke="#2c2c2c" stroke-width="0.2" text-anchor="end" textLength="17.15" lengthAdjust="spacingAndGlyphs">0.43</text>
<line x1="466" y1="308.87" x2="610" y2="308.87" stroke="#f3f3f3" stroke-width="0.8"/>
<text x="463.3" y="311.99" font-size="9" fill="#2c2c2c" stroke="#2c2c2c" stroke-width="0.2" text-anchor="end" textLength="17.15" lengthAdjust="spacingAndGlyphs">0.41</text>
<line x1="466" y1="325.24" x2="610" y2="325.24" stroke="#f3f3f3" stroke-width="0.8"/>
<text x="463.3" y="328.36" font-size="9" fill="#2c2c2c" stroke="#2c2c2c" stroke-width="0.2" text-anchor="end" textLength="17.15" lengthAdjust="spacingAndGlyphs">0.39</text>
<line x1="466" y1="341.61" x2="610" y2="341.61" stroke="#f3f3f3" stroke-width="0.8"/>
<text x="463.3" y="344.73" font-size="9" fill="#2c2c2c" stroke="#2c2c2c" stroke-width="0.2" text-anchor="end" textLength="17.15" lengthAdjust="spacingAndGlyphs">0.37</text>
<line x1="466" y1="357.98" x2="610" y2="357.98" stroke="#f3f3f3" stroke-width="0.8"/>
<text x="463.3" y="361.1" font-size="9" fill="#2c2c2c" stroke="#2c2c2c" stroke-width="0.2" text-anchor="end" textLength="17.15" lengthAdjust="spacingAndGlyphs">0.35</text>
<line x1="466" y1="374.35" x2="610" y2="374.35" stroke="#f3f3f3" stroke-width="0.8"/>
<text x="463.3" y="377.47" font-size="9" fill="#2c2c2c" stroke="#2c2c2c" stroke-width="0.2" text-anchor="end" textLength="17.15" lengthAdjust="spacingAndGlyphs">0.33</text>
<line x1="466" y1="390.72" x2="610" y2="390.72" stroke="#f3f3f3" stroke-width="0.8"/>
<text x="463.3" y="393.84" font-size="9" fill="#2c2c2c" stroke="#2c2c2c" stroke-width="0.2" text-anchor="end" textLength="17.15" lengthAdjust="spacingAndGlyphs">0.31</text>
<line x1="466" y1="407.09" x2="610" y2="407.09" stroke="#f3f3f3" stroke-width="0.8"/>
<text x="463.3" y="410.21" font-size="9" fill="#2c2c2c" stroke="#2c2c2c" stroke-width="0.2" text-anchor="end" textLength="17.15" lengthAdjust="spacingAndGlyphs">0.29</text>
<line x1="466" y1="423.46" x2="610" y2="423.46" stroke="#f3f3f3" stroke-width="0.8"/>
<text x="463.3" y="426.58" font-size="9" fill="#2c2c2c" stroke="#2c2c2c" stroke-width="0.2" text-anchor="end" textLength="17.15" lengthAdjust="spacingAndGlyphs">0.27</text>
<line x1="466" y1="439.83" x2="610" y2="439.83" stroke="#f3f3f3" stroke-width="0.8"/>
<text x="463.3" y="442.95" font-size="9" fill="#2c2c2c" stroke="#2c2c2c" stroke-width="0.2" text-anchor="end" textLength="17.15" lengthAdjust="spacingAndGlyphs">0.25</text>
<text x="463.3" y="459.32" font-size="9" fill="#2c2c2c" stroke="#2c2c2c" stroke-width="0.2" text-anchor="end" textLength="17.15" lengthAdjust="spacingAndGlyphs">0.23</text>
<line x1="506.25" y1="322.25" x2="506.25" y2="349.5" stroke="#c2c2c2" stroke-width="1"/>
<line x1="506.25" y1="402.25" x2="506.25" y2="420.5" stroke="#c2c2c2" stroke-width="1"/>
<line x1="498.25" y1="322.25" x2="514.25" y2="322.25" stroke="#c2c2c2" stroke-width="0.9"/>
<line x1="498.25" y1="420.5" x2="514.25" y2="420.5" stroke="#c2c2c2" stroke-width="0.9"/>
<rect x="479.55" y="349.8" width="53.4" height="52.15" fill="#bfbfbf" stroke="#ababab" stroke-width="0.7"/>
<line x1="479.25" y1="392.25" x2="533.25" y2="392.25" stroke="#959595" stroke-width="0.8"/>
<path d="M505.6 376.85L507.4 378.65M505.6 378.65L507.4 376.85" stroke="#3a3a3a" stroke-width="0.85" fill="none"/>
<line x1="566" y1="385.25" x2="566" y2="410.5" stroke="#c2c2c2" stroke-width="1"/>
<line x1="566" y1="435" x2="566" y2="447.25" stroke="#c2c2c2" stroke-width="1"/>
<line x1="558" y1="385.25" x2="574" y2="385.25" stroke="#c2c2c2" stroke-width="0.9"/>
<line x1="558" y1="447.25" x2="574" y2="447.25" stroke="#c2c2c2" stroke-width="0.9"/>
<rect x="539.3" y="410.8" width="53.4" height="23.9" fill="#787878" stroke="#6a6a6a" stroke-width="0.7"/>
<line x1="539" y1="426.75" x2="593" y2="426.75" stroke="#5f5f5f" stroke-width="0.8"/>
<path d="M565.1 420.85L566.9 422.65M565.1 422.65L566.9 420.85" stroke="#3a3a3a" stroke-width="0.85" fill="none"/>
<path d="M507.5 318V311.8H569.25V318" fill="none" stroke="#b8b8b8" stroke-width="0.75"/>
<text x="536.9" y="306.65" font-size="10.8" fill="#222222" stroke="#222" stroke-width="0.2" text-anchor="middle" textLength="52" lengthAdjust="spacingAndGlyphs"><tspan font-style="italic">p</tspan> = 0.0005</text>
<text transform="translate(425.1 374.5) rotate(-90)" font-size="13.8" font-weight="bold" fill="#000" stroke="#000" stroke-width="0.3" text-anchor="middle" textLength="51.45" lengthAdjust="spacingAndGlyphs">Safranal</text>
<text transform="translate(440.6 374.5) rotate(-90)" font-size="11.6" fill="#2a2a2a" stroke="#2a2a2a" stroke-width="0.3" text-anchor="middle" textLength="29.6" lengthAdjust="spacingAndGlyphs">(µg/L)</text>
<rect x="450.4" y="472.7" width="8.1" height="8.2" fill="#bfbfbf" stroke="#505050" stroke-width="0.9"/>
<text x="461.5" y="481" font-size="10.6" fill="#2c2c2c" stroke="#2c2c2c" stroke-width="0.2" textLength="70.2" lengthAdjust="spacingAndGlyphs">Natural Cork 1</text>
<rect x="553.15" y="472.7" width="8.1" height="8.2" fill="#787878" stroke="#424242" stroke-width="0.9"/>
<text x="564.25" y="481.4" font-size="10.6" fill="#2c2c2c" stroke="#2c2c2c" stroke-width="0.2" textLength="36.7" lengthAdjust="spacingAndGlyphs">Micro A</text>
</g>
<g>
<rect x="669.75" y="286.8" width="145" height="169.2" fill="#fff" stroke="#cdcdcd" stroke-width="1"/>
<line x1="670.25" y1="300" x2="814.25" y2="300" stroke="#f3f3f3" stroke-width="0.8"/>
<text x="667.55" y="303.12" font-size="9" fill="#2c2c2c" stroke="#2c2c2c" stroke-width="0.2" text-anchor="end" textLength="17.15" lengthAdjust="spacingAndGlyphs">0.85</text>
<line x1="670.25" y1="326" x2="814.25" y2="326" stroke="#f3f3f3" stroke-width="0.8"/>
<text x="667.55" y="329.12" font-size="9" fill="#2c2c2c" stroke="#2c2c2c" stroke-width="0.2" text-anchor="end" textLength="17.15" lengthAdjust="spacingAndGlyphs">0.75</text>
<line x1="670.25" y1="352" x2="814.25" y2="352" stroke="#f3f3f3" stroke-width="0.8"/>
<text x="667.55" y="355.12" font-size="9" fill="#2c2c2c" stroke="#2c2c2c" stroke-width="0.2" text-anchor="end" textLength="17.15" lengthAdjust="spacingAndGlyphs">0.65</text>
<line x1="670.25" y1="378" x2="814.25" y2="378" stroke="#f3f3f3" stroke-width="0.8"/>
<text x="667.55" y="381.12" font-size="9" fill="#2c2c2c" stroke="#2c2c2c" stroke-width="0.2" text-anchor="end" textLength="17.15" lengthAdjust="spacingAndGlyphs">0.55</text>
<line x1="670.25" y1="404" x2="814.25" y2="404" stroke="#f3f3f3" stroke-width="0.8"/>
<text x="667.55" y="407.12" font-size="9" fill="#2c2c2c" stroke="#2c2c2c" stroke-width="0.2" text-anchor="end" textLength="17.15" lengthAdjust="spacingAndGlyphs">0.45</text>
<line x1="670.25" y1="430" x2="814.25" y2="430" stroke="#f3f3f3" stroke-width="0.8"/>
<text x="667.55" y="433.12" font-size="9" fill="#2c2c2c" stroke="#2c2c2c" stroke-width="0.2" text-anchor="end" textLength="17.15" lengthAdjust="spacingAndGlyphs">0.35</text>
<text x="667.55" y="459.12" font-size="9" fill="#2c2c2c" stroke="#2c2c2c" stroke-width="0.2" text-anchor="end" textLength="17.15" lengthAdjust="spacingAndGlyphs">0.25</text>
<line x1="711" y1="310.75" x2="711" y2="345.25" stroke="#f5f5f5" stroke-width="1"/>
<line x1="711" y1="422.5" x2="711" y2="429" stroke="#f5f5f5" stroke-width="1"/>
<line x1="703" y1="310.75" x2="719" y2="310.75" stroke="#c2c2c2" stroke-width="0.9"/>
<line x1="703" y1="429" x2="719" y2="429" stroke="#c2c2c2" stroke-width="0.9"/>
<rect x="684.3" y="345.55" width="53.15" height="76.65" fill="#bfbfbf" stroke="#ababab" stroke-width="0.7"/>
<line x1="684" y1="412.25" x2="737.75" y2="412.25" stroke="#959595" stroke-width="0.8"/>
<path d="M710.1 391.85L711.9 393.65M710.1 393.65L711.9 391.85" stroke="#3a3a3a" stroke-width="0.85" fill="none"/>
<line x1="770.88" y1="408.5" x2="770.88" y2="421.5" stroke="#d4d4d4" stroke-width="1"/>
<line x1="770.88" y1="434.75" x2="770.88" y2="446.25" stroke="#d4d4d4" stroke-width="1"/>
<line x1="763" y1="408.5" x2="778.75" y2="408.5" stroke="#c2c2c2" stroke-width="0.9"/>
<line x1="763" y1="446.25" x2="778.75" y2="446.25" stroke="#c2c2c2" stroke-width="0.9"/>
<rect x="744.3" y="421.8" width="53.15" height="12.65" fill="#787878" stroke="#6a6a6a" stroke-width="0.7"/>
<line x1="744" y1="424.25" x2="797.75" y2="424.25" stroke="#5f5f5f" stroke-width="0.8"/>
<path d="M769.85 426.85L771.65 428.65M769.85 428.65L771.65 426.85" stroke="#3a3a3a" stroke-width="0.85" fill="none"/>
<path d="M709.25 308.25V302.5H772.75V308.25" fill="none" stroke="#b8b8b8" stroke-width="0.75"/>
<text x="739.15" y="298.55" font-size="10.8" fill="#222222" stroke="#222" stroke-width="0.2" text-anchor="middle" textLength="52" lengthAdjust="spacingAndGlyphs"><tspan font-style="italic">p</tspan> = 0.0144</text>
<text transform="translate(631.35 371.25) rotate(-90)" font-size="13.8" font-weight="bold" fill="#000" stroke="#000" stroke-width="0.3" text-anchor="middle" textLength="74.7" lengthAdjust="spacingAndGlyphs">1,3-Dioxane</text>
<text transform="translate(645.2 371.5) rotate(-90)" font-size="11.6" fill="#2a2a2a" stroke="#2a2a2a" stroke-width="0.3" text-anchor="middle" textLength="29.6" lengthAdjust="spacingAndGlyphs">(µg/L)</text>
<rect x="654.65" y="472.7" width="8.1" height="8.2" fill="#bfbfbf" stroke="#505050" stroke-width="0.9"/>
<text x="665.75" y="481" font-size="10.6" fill="#2c2c2c" stroke="#2c2c2c" stroke-width="0.2" textLength="70.2" lengthAdjust="spacingAndGlyphs">Natural Cork 1</text>
<rect x="757.9" y="472.7" width="8.1" height="8.2" fill="#787878" stroke="#424242" stroke-width="0.9"/>
<text x="769" y="481.4" font-size="10.6" fill="#2c2c2c" stroke="#2c2c2c" stroke-width="0.2" textLength="36.7" lengthAdjust="spacingAndGlyphs">Micro A</text>
</g>
<g>
<rect x="875.75" y="292" width="142.75" height="164" fill="#fff" stroke="#cdcdcd" stroke-width="1"/>
<text x="874.25" y="295.42" font-size="9" fill="#2c2c2c" stroke="#2c2c2c" stroke-width="0.2" text-anchor="end" textLength="19" lengthAdjust="spacingAndGlyphs">1450</text>
<line x1="876.25" y1="310.51" x2="1018" y2="310.51" stroke="#f3f3f3" stroke-width="0.8"/>
<text x="874.25" y="313.63" font-size="9" fill="#2c2c2c" stroke="#2c2c2c" stroke-width="0.2" text-anchor="end" textLength="19" lengthAdjust="spacingAndGlyphs">1350</text>
<line x1="876.25" y1="328.72" x2="1018" y2="328.72" stroke="#f3f3f3" stroke-width="0.8"/>
<text x="874.25" y="331.84" font-size="9" fill="#2c2c2c" stroke="#2c2c2c" stroke-width="0.2" text-anchor="end" textLength="19" lengthAdjust="spacingAndGlyphs">1250</text>
<line x1="876.25" y1="346.93" x2="1018" y2="346.93" stroke="#f3f3f3" stroke-width="0.8"/>
<text x="874.25" y="350.06" font-size="9" fill="#2c2c2c" stroke="#2c2c2c" stroke-width="0.2" text-anchor="end" textLength="19" lengthAdjust="spacingAndGlyphs">1150</text>
<line x1="876.25" y1="365.14" x2="1018" y2="365.14" stroke="#f3f3f3" stroke-width="0.8"/>
<text x="874.25" y="368.27" font-size="9" fill="#2c2c2c" stroke="#2c2c2c" stroke-width="0.2" text-anchor="end" textLength="19" lengthAdjust="spacingAndGlyphs">1050</text>
<line x1="876.25" y1="383.36" x2="1018" y2="383.36" stroke="#f3f3f3" stroke-width="0.8"/>
<text x="874.25" y="386.48" font-size="9" fill="#2c2c2c" stroke="#2c2c2c" stroke-width="0.2" text-anchor="end" textLength="14.25" lengthAdjust="spacingAndGlyphs">950</text>
<line x1="876.25" y1="401.57" x2="1018" y2="401.57" stroke="#f3f3f3" stroke-width="0.8"/>
<text x="874.25" y="404.69" font-size="9" fill="#2c2c2c" stroke="#2c2c2c" stroke-width="0.2" text-anchor="end" textLength="14.25" lengthAdjust="spacingAndGlyphs">850</text>
<line x1="876.25" y1="419.78" x2="1018" y2="419.78" stroke="#f3f3f3" stroke-width="0.8"/>
<text x="874.25" y="422.9" font-size="9" fill="#2c2c2c" stroke="#2c2c2c" stroke-width="0.2" text-anchor="end" textLength="14.25" lengthAdjust="spacingAndGlyphs">750</text>
<line x1="876.25" y1="437.99" x2="1018" y2="437.99" stroke="#f3f3f3" stroke-width="0.8"/>
<text x="874.25" y="441.11" font-size="9" fill="#2c2c2c" stroke="#2c2c2c" stroke-width="0.2" text-anchor="end" textLength="14.25" lengthAdjust="spacingAndGlyphs">650</text>
<text x="874.25" y="459.32" font-size="9" fill="#2c2c2c" stroke="#2c2c2c" stroke-width="0.2" text-anchor="end" textLength="14.25" lengthAdjust="spacingAndGlyphs">550</text>
<line x1="916.38" y1="314" x2="916.38" y2="330" stroke="#c2c2c2" stroke-width="1"/>
<line x1="916.38" y1="395.75" x2="916.38" y2="416.5" stroke="#c2c2c2" stroke-width="1"/>
<line x1="908.5" y1="314" x2="924.25" y2="314" stroke="#c2c2c2" stroke-width="0.9"/>
<line x1="908.5" y1="416.5" x2="924.25" y2="416.5" stroke="#c2c2c2" stroke-width="0.9"/>
<rect x="890.05" y="330.3" width="52.4" height="65.15" fill="#bfbfbf" stroke="#ababab" stroke-width="0.7"/>
<line x1="889.75" y1="360.25" x2="942.75" y2="360.25" stroke="#959595" stroke-width="0.8"/>
<path d="M915.35 361.6L917.15 363.4M915.35 363.4L917.15 361.6" stroke="#3a3a3a" stroke-width="0.85" fill="none"/>
<line x1="975" y1="373.5" x2="975" y2="385.5" stroke="#c2c2c2" stroke-width="1"/>
<line x1="975" y1="420.75" x2="975" y2="450.5" stroke="#c2c2c2" stroke-width="1"/>
<line x1="967.25" y1="373.5" x2="982.75" y2="373.5" stroke="#c2c2c2" stroke-width="0.9"/>
<line x1="967.25" y1="450.5" x2="982.75" y2="450.5" stroke="#c2c2c2" stroke-width="0.9"/>
<rect x="949.05" y="385.8" width="52.15" height="34.65" fill="#787878" stroke="#6a6a6a" stroke-width="0.7"/>
<line x1="948.75" y1="412.25" x2="1001.5" y2="412.25" stroke="#5f5f5f" stroke-width="0.8"/>
<path d="M974.1 404.6L975.9 406.4M974.1 406.4L975.9 404.6" stroke="#3a3a3a" stroke-width="0.85" fill="none"/>
<circle cx="975" cy="332" r="0.75" fill="#555"/>
<path d="M917.25 310V306H973V310" fill="none" stroke="#b8b8b8" stroke-width="0.75"/>
<text x="944.15" y="303.4" font-size="10.8" fill="#222222" stroke="#222" stroke-width="0.2" text-anchor="middle" textLength="52" lengthAdjust="spacingAndGlyphs"><tspan font-style="italic">p</tspan> = 0.0270</text>
<text transform="translate(833.85 373.75) rotate(-90)" font-size="13.8" font-weight="bold" fill="#000" stroke="#000" stroke-width="0.3" text-anchor="middle" textLength="134.7" lengthAdjust="spacingAndGlyphs">2-Methyl-1,3-dioxane</text>
<text transform="translate(848.65 374) rotate(-90)" font-size="11.6" fill="#2a2a2a" stroke="#2a2a2a" stroke-width="0.3" text-anchor="middle" textLength="29.6" lengthAdjust="spacingAndGlyphs">(µg/L)</text>
<rect x="857.65" y="473.45" width="8.1" height="8.2" fill="#bfbfbf" stroke="#505050" stroke-width="0.9"/>
<text x="868.75" y="481.75" font-size="10.6" fill="#2c2c2c" stroke="#2c2c2c" stroke-width="0.2" textLength="70.2" lengthAdjust="spacingAndGlyphs">Natural Cork 1</text>
<rect x="960.9" y="473.45" width="8.1" height="8.2" fill="#787878" stroke="#424242" stroke-width="0.9"/>
<text x="972" y="482.15" font-size="10.6" fill="#2c2c2c" stroke="#2c2c2c" stroke-width="0.2" textLength="36.7" lengthAdjust="spacingAndGlyphs">Micro A</text>
</g>
<g>
<rect x="55" y="539.4" width="145" height="170.1" fill="#fff" stroke="#cdcdcd" stroke-width="1"/>
<line x1="55.5" y1="561.8" x2="199.5" y2="561.8" stroke="#f3f3f3" stroke-width="0.8"/>
<text x="52.8" y="564.92" font-size="9" fill="#2c2c2c" stroke="#2c2c2c" stroke-width="0.2" text-anchor="end" textLength="17.15" lengthAdjust="spacingAndGlyphs">0.44</text>
<line x1="55.5" y1="598.72" x2="199.5" y2="598.72" stroke="#f3f3f3" stroke-width="0.8"/>
<text x="52.8" y="601.85" font-size="9" fill="#2c2c2c" stroke="#2c2c2c" stroke-width="0.2" text-anchor="end" textLength="17.15" lengthAdjust="spacingAndGlyphs">0.39</text>
<line x1="55.5" y1="635.65" x2="199.5" y2="635.65" stroke="#f3f3f3" stroke-width="0.8"/>
<text x="52.8" y="638.77" font-size="9" fill="#2c2c2c" stroke="#2c2c2c" stroke-width="0.2" text-anchor="end" textLength="17.15" lengthAdjust="spacingAndGlyphs">0.34</text>
<line x1="55.5" y1="672.58" x2="199.5" y2="672.58" stroke="#f3f3f3" stroke-width="0.8"/>
<text x="52.8" y="675.7" font-size="9" fill="#2c2c2c" stroke="#2c2c2c" stroke-width="0.2" text-anchor="end" textLength="17.15" lengthAdjust="spacingAndGlyphs">0.29</text>
<text x="52.8" y="712.62" font-size="9" fill="#2c2c2c" stroke="#2c2c2c" stroke-width="0.2" text-anchor="end" textLength="17.15" lengthAdjust="spacingAndGlyphs">0.24</text>
<line x1="95.62" y1="568.25" x2="95.62" y2="585" stroke="#b2b2b2" stroke-width="1"/>
<line x1="95.62" y1="621" x2="95.62" y2="630.5" stroke="#b2b2b2" stroke-width="1"/>
<line x1="87.5" y1="568.25" x2="103.75" y2="568.25" stroke="#b2b2b2" stroke-width="0.9"/>
<rect x="69.3" y="585.3" width="53.4" height="35.4" fill="#bfbfbf" stroke="#ababab" stroke-width="0.7"/>
<line x1="69" y1="602" x2="123" y2="602" stroke="#b3b3b3" stroke-width="0.8"/>
<path d="M94.85 600.6L96.65 602.4M94.85 602.4L96.65 600.6" stroke="#3a3a3a" stroke-width="0.85" fill="none"/>
<line x1="155.75" y1="603.75" x2="155.75" y2="623.5" stroke="#c2c2c2" stroke-width="1"/>
<line x1="155.75" y1="684.5" x2="155.75" y2="702.5" stroke="#c2c2c2" stroke-width="1"/>
<line x1="147.75" y1="603.75" x2="163.75" y2="603.75" stroke="#c2c2c2" stroke-width="0.9"/>
<line x1="147.75" y1="702.5" x2="163.75" y2="702.5" stroke="#c2c2c2" stroke-width="0.9"/>
<rect x="129.05" y="623.8" width="53.4" height="60.4" fill="#787878" stroke="#6a6a6a" stroke-width="0.7"/>
<line x1="128.75" y1="654.5" x2="182.75" y2="654.5" stroke="#5f5f5f" stroke-width="0.8"/>
<path d="M154.85 654.1L156.65 655.9M154.85 655.9L156.65 654.1" stroke="#3a3a3a" stroke-width="0.85" fill="none"/>
<path d="M97 564.25V558H160.5V564.25" fill="none" stroke="#b8b8b8" stroke-width="0.75"/>
<text x="127.4" y="554.3" font-size="10.8" fill="#222222" stroke="#222" stroke-width="0.2" text-anchor="middle" textLength="52" lengthAdjust="spacingAndGlyphs"><tspan font-style="italic">p</tspan> = 0.0001</text>
<text transform="translate(15.1 624.5) rotate(-90)" font-size="13.8" font-weight="bold" fill="#000" stroke="#000" stroke-width="0.3" text-anchor="middle" textLength="67.95" lengthAdjust="spacingAndGlyphs">Rose oxide</text>
<text transform="translate(29.7 624.5) rotate(-90)" font-size="11.6" fill="#2a2a2a" stroke="#2a2a2a" stroke-width="0.3" text-anchor="middle" textLength="29.6" lengthAdjust="spacingAndGlyphs">(µg/L)</text>
<rect x="41.4" y="726.45" width="8.1" height="8.2" fill="#bfbfbf" stroke="#505050" stroke-width="0.9"/>
<text x="52.5" y="735" font-size="10.6" fill="#2c2c2c" stroke="#2c2c2c" stroke-width="0.2" textLength="70.2" lengthAdjust="spacingAndGlyphs">Natural Cork 1</text>
<rect x="144.4" y="726.45" width="8.1" height="8.2" fill="#787878" stroke="#424242" stroke-width="0.9"/>
<text x="155.5" y="735.4" font-size="10.6" fill="#2c2c2c" stroke="#2c2c2c" stroke-width="0.2" textLength="36.7" lengthAdjust="spacingAndGlyphs">Micro A</text>
</g>
<g>
<rect x="260.75" y="539.4" width="145" height="170.1" fill="#fff" stroke="#cdcdcd" stroke-width="1"/>
<line x1="261.25" y1="546.5" x2="405.25" y2="546.5" stroke="#f3f3f3" stroke-width="0.8"/>
<text x="258.55" y="549.62" font-size="9" fill="#2c2c2c" stroke="#2c2c2c" stroke-width="0.2" text-anchor="end" textLength="17.15" lengthAdjust="spacingAndGlyphs">2.45</text>
<line x1="261.25" y1="573.67" x2="405.25" y2="573.67" stroke="#f3f3f3" stroke-width="0.8"/>
<text x="258.55" y="576.79" font-size="9" fill="#2c2c2c" stroke="#2c2c2c" stroke-width="0.2" text-anchor="end" textLength="17.15" lengthAdjust="spacingAndGlyphs">2.25</text>
<line x1="261.25" y1="600.83" x2="405.25" y2="600.83" stroke="#f3f3f3" stroke-width="0.8"/>
<text x="258.55" y="603.96" font-size="9" fill="#2c2c2c" stroke="#2c2c2c" stroke-width="0.2" text-anchor="end" textLength="17.15" lengthAdjust="spacingAndGlyphs">2.05</text>
<line x1="261.25" y1="628" x2="405.25" y2="628" stroke="#f3f3f3" stroke-width="0.8"/>
<text x="258.55" y="631.12" font-size="9" fill="#2c2c2c" stroke="#2c2c2c" stroke-width="0.2" text-anchor="end" textLength="17.15" lengthAdjust="spacingAndGlyphs">1.85</text>
<line x1="261.25" y1="655.17" x2="405.25" y2="655.17" stroke="#f3f3f3" stroke-width="0.8"/>
<text x="258.55" y="658.29" font-size="9" fill="#2c2c2c" stroke="#2c2c2c" stroke-width="0.2" text-anchor="end" textLength="17.15" lengthAdjust="spacingAndGlyphs">1.65</text>
<line x1="261.25" y1="682.33" x2="405.25" y2="682.33" stroke="#f3f3f3" stroke-width="0.8"/>
<text x="258.55" y="685.46" font-size="9" fill="#2c2c2c" stroke="#2c2c2c" stroke-width="0.2" text-anchor="end" textLength="17.15" lengthAdjust="spacingAndGlyphs">1.45</text>
<text x="258.55" y="712.62" font-size="9" fill="#2c2c2c" stroke="#2c2c2c" stroke-width="0.2" text-anchor="end" textLength="17.15" lengthAdjust="spacingAndGlyphs">1.25</text>
<line x1="301.62" y1="571" x2="301.62" y2="608.25" stroke="#c2c2c2" stroke-width="1"/>
<line x1="301.62" y1="637.25" x2="301.62" y2="648" stroke="#c2c2c2" stroke-width="1"/>
<line x1="293.75" y1="571" x2="309.5" y2="571" stroke="#c2c2c2" stroke-width="0.9"/>
<line x1="293.75" y1="648" x2="309.5" y2="648" stroke="#c2c2c2" stroke-width="0.9"/>
<rect x="275.05" y="608.55" width="53.4" height="28.4" fill="#bfbfbf" stroke="#ababab" stroke-width="0.7"/>
<line x1="274.75" y1="619.25" x2="328.75" y2="619.25" stroke="#959595" stroke-width="0.8"/>
<path d="M300.85 622.1L302.65 623.9M300.85 623.9L302.65 622.1" stroke="#3a3a3a" stroke-width="0.85" fill="none"/>
<line x1="361.5" y1="615" x2="361.5" y2="639.75" stroke="#c2c2c2" stroke-width="1"/>
<line x1="361.5" y1="667.5" x2="361.5" y2="697.75" stroke="#c2c2c2" stroke-width="1"/>
<line x1="353.5" y1="615" x2="369.5" y2="615" stroke="#c2c2c2" stroke-width="0.9"/>
<line x1="353.5" y1="697.75" x2="369.5" y2="697.75" stroke="#c2c2c2" stroke-width="0.9"/>
<rect x="334.8" y="640.05" width="53.4" height="27.15" fill="#787878" stroke="#6a6a6a" stroke-width="0.7"/>
<line x1="334.5" y1="652" x2="388.5" y2="652" stroke="#5f5f5f" stroke-width="0.8"/>
<path d="M360.6 652.35L362.4 654.15M360.6 654.15L362.4 652.35" stroke="#3a3a3a" stroke-width="0.85" fill="none"/>
<circle cx="301.75" cy="692.25" r="0.75" fill="#555"/>
<path d="M300.5 564.5V558H364V564.5" fill="none" stroke="#b8b8b8" stroke-width="0.75"/>
<text x="332.15" y="554.3" font-size="10.8" fill="#222222" stroke="#222" stroke-width="0.2" text-anchor="middle" textLength="52" lengthAdjust="spacingAndGlyphs"><tspan font-style="italic">p</tspan> = 0.0079</text>
<text transform="translate(220.85 624.5) rotate(-90)" font-size="13.8" font-weight="bold" fill="#000" stroke="#000" stroke-width="0.3" text-anchor="middle" textLength="72.45" lengthAdjust="spacingAndGlyphs">Nerol oxide</text>
<text transform="translate(235.85 624.5) rotate(-90)" font-size="11.6" fill="#2a2a2a" stroke="#2a2a2a" stroke-width="0.3" text-anchor="middle" textLength="29.6" lengthAdjust="spacingAndGlyphs">(µg/L)</text>
<rect x="244.4" y="727.2" width="8.1" height="8.2" fill="#bfbfbf" stroke="#505050" stroke-width="0.9"/>
<text x="255.5" y="735.5" font-size="10.6" fill="#2c2c2c" stroke="#2c2c2c" stroke-width="0.2" textLength="70.2" lengthAdjust="spacingAndGlyphs">Natural Cork 1</text>
<rect x="347.4" y="727.2" width="8.1" height="8.2" fill="#787878" stroke="#424242" stroke-width="0.9"/>
<text x="358.5" y="735.9" font-size="10.6" fill="#2c2c2c" stroke="#2c2c2c" stroke-width="0.2" textLength="36.7" lengthAdjust="spacingAndGlyphs">Micro A</text>
</g>
<g>
<rect x="464.25" y="544.5" width="144.75" height="164.5" fill="#fff" stroke="#cdcdcd" stroke-width="1"/>
<text x="462.05" y="548.32" font-size="9" fill="#2c2c2c" stroke="#2c2c2c" stroke-width="0.2" text-anchor="end" textLength="17.15" lengthAdjust="spacingAndGlyphs">4.50</text>
<line x1="464.75" y1="578.04" x2="608.5" y2="578.04" stroke="#f3f3f3" stroke-width="0.8"/>
<text x="462.05" y="581.16" font-size="9" fill="#2c2c2c" stroke="#2c2c2c" stroke-width="0.2" text-anchor="end" textLength="17.15" lengthAdjust="spacingAndGlyphs">4.00</text>
<line x1="464.75" y1="610.88" x2="608.5" y2="610.88" stroke="#f3f3f3" stroke-width="0.8"/>
<text x="462.05" y="614" font-size="9" fill="#2c2c2c" stroke="#2c2c2c" stroke-width="0.2" text-anchor="end" textLength="17.15" lengthAdjust="spacingAndGlyphs">3.50</text>
<line x1="464.75" y1="643.72" x2="608.5" y2="643.72" stroke="#f3f3f3" stroke-width="0.8"/>
<text x="462.05" y="646.84" font-size="9" fill="#2c2c2c" stroke="#2c2c2c" stroke-width="0.2" text-anchor="end" textLength="17.15" lengthAdjust="spacingAndGlyphs">3.00</text>
<line x1="464.75" y1="676.56" x2="608.5" y2="676.56" stroke="#f3f3f3" stroke-width="0.8"/>
<text x="462.05" y="679.68" font-size="9" fill="#2c2c2c" stroke="#2c2c2c" stroke-width="0.2" text-anchor="end" textLength="17.15" lengthAdjust="spacingAndGlyphs">2.50</text>
<text x="462.05" y="712.52" font-size="9" fill="#2c2c2c" stroke="#2c2c2c" stroke-width="0.2" text-anchor="end" textLength="17.15" lengthAdjust="spacingAndGlyphs">2.00</text>
<line x1="505" y1="579.25" x2="505" y2="623.25" stroke="#d4d4d4" stroke-width="1"/>
<line x1="505" y1="661.5" x2="505" y2="693.5" stroke="#d4d4d4" stroke-width="1"/>
<line x1="497" y1="579.25" x2="513" y2="579.25" stroke="#c2c2c2" stroke-width="0.9"/>
<line x1="497" y1="693.5" x2="513" y2="693.5" stroke="#c2c2c2" stroke-width="0.9"/>
<rect x="478.55" y="623.55" width="53.15" height="37.65" fill="#bfbfbf" stroke="#ababab" stroke-width="0.7"/>
<line x1="478.25" y1="640.75" x2="532" y2="640.75" stroke="#959595" stroke-width="0.8"/>
<path d="M504.35 638.6L506.15 640.4M504.35 640.4L506.15 638.6" stroke="#3a3a3a" stroke-width="0.85" fill="none"/>
<line x1="564.5" y1="640.25" x2="564.5" y2="650" stroke="#c2c2c2" stroke-width="1"/>
<line x1="564.5" y1="676" x2="564.5" y2="696.75" stroke="#c2c2c2" stroke-width="1"/>
<line x1="556.5" y1="640.25" x2="572.5" y2="640.25" stroke="#c2c2c2" stroke-width="0.9"/>
<line x1="556.5" y1="696.75" x2="572.5" y2="696.75" stroke="#c2c2c2" stroke-width="0.9"/>
<rect x="538.3" y="650.3" width="53.15" height="25.4" fill="#787878" stroke="#6a6a6a" stroke-width="0.7"/>
<line x1="538" y1="664.25" x2="591.75" y2="664.25" stroke="#5f5f5f" stroke-width="0.8"/>
<path d="M563.6 663.1L565.4 664.9M563.6 664.9L565.4 663.1" stroke="#3a3a3a" stroke-width="0.85" fill="none"/>
<path d="M505.5 570.5V564.25H565V570.5" fill="none" stroke="#b8b8b8" stroke-width="0.75"/>
<text x="533.9" y="560.3" font-size="10.8" fill="#222222" stroke="#222" stroke-width="0.2" text-anchor="middle" textLength="52" lengthAdjust="spacingAndGlyphs"><tspan font-style="italic">p</tspan> = 0.0221</text>
<text transform="translate(423.85 627) rotate(-90)" font-size="13.8" font-weight="bold" fill="#000" stroke="#000" stroke-width="0.3" text-anchor="middle" textLength="111.95" lengthAdjust="spacingAndGlyphs">Linalool-3,7-oxide</text>
<text transform="translate(438.85 627) rotate(-90)" font-size="11.6" fill="#2a2a2a" stroke="#2a2a2a" stroke-width="0.3" text-anchor="middle" textLength="29.6" lengthAdjust="spacingAndGlyphs">(µg/L)</text>
<rect x="449.4" y="725.95" width="8.1" height="8.2" fill="#bfbfbf" stroke="#505050" stroke-width="0.9"/>
<text x="460.5" y="734.5" font-size="10.6" fill="#2c2c2c" stroke="#2c2c2c" stroke-width="0.2" textLength="70.2" lengthAdjust="spacingAndGlyphs">Natural Cork 1</text>
<rect x="552.15" y="725.95" width="8.1" height="8.2" fill="#787878" stroke="#424242" stroke-width="0.9"/>
<text x="563.25" y="734.9" font-size="10.6" fill="#2c2c2c" stroke="#2c2c2c" stroke-width="0.2" textLength="36.7" lengthAdjust="spacingAndGlyphs">Micro A</text>
</g>
<g>
<rect x="668.75" y="544.5" width="145" height="164.5" fill="#fff" stroke="#cdcdcd" stroke-width="1"/>
<text x="666.55" y="548.32" font-size="9" fill="#2c2c2c" stroke="#2c2c2c" stroke-width="0.2" text-anchor="end" textLength="17.15" lengthAdjust="spacingAndGlyphs">0.70</text>
<line x1="669.25" y1="568.66" x2="813.25" y2="568.66" stroke="#f3f3f3" stroke-width="0.8"/>
<text x="666.55" y="571.78" font-size="9" fill="#2c2c2c" stroke="#2c2c2c" stroke-width="0.2" text-anchor="end" textLength="17.15" lengthAdjust="spacingAndGlyphs">0.60</text>
<line x1="669.25" y1="592.11" x2="813.25" y2="592.11" stroke="#f3f3f3" stroke-width="0.8"/>
<text x="666.55" y="595.24" font-size="9" fill="#2c2c2c" stroke="#2c2c2c" stroke-width="0.2" text-anchor="end" textLength="17.15" lengthAdjust="spacingAndGlyphs">0.50</text>
<line x1="669.25" y1="615.57" x2="813.25" y2="615.57" stroke="#f3f3f3" stroke-width="0.8"/>
<text x="666.55" y="618.69" font-size="9" fill="#2c2c2c" stroke="#2c2c2c" stroke-width="0.2" text-anchor="end" textLength="17.15" lengthAdjust="spacingAndGlyphs">0.40</text>
<line x1="669.25" y1="639.03" x2="813.25" y2="639.03" stroke="#f3f3f3" stroke-width="0.8"/>
<text x="666.55" y="642.15" font-size="9" fill="#2c2c2c" stroke="#2c2c2c" stroke-width="0.2" text-anchor="end" textLength="17.15" lengthAdjust="spacingAndGlyphs">0.30</text>
<line x1="669.25" y1="662.49" x2="813.25" y2="662.49" stroke="#f3f3f3" stroke-width="0.8"/>
<text x="666.55" y="665.61" font-size="9" fill="#2c2c2c" stroke="#2c2c2c" stroke-width="0.2" text-anchor="end" textLength="17.15" lengthAdjust="spacingAndGlyphs">0.20</text>
<line x1="669.25" y1="685.94" x2="813.25" y2="685.94" stroke="#f3f3f3" stroke-width="0.8"/>
<text x="666.55" y="689.06" font-size="9" fill="#2c2c2c" stroke="#2c2c2c" stroke-width="0.2" text-anchor="end" textLength="17.15" lengthAdjust="spacingAndGlyphs">0.10</text>
<text x="666.55" y="712.52" font-size="9" fill="#2c2c2c" stroke="#2c2c2c" stroke-width="0.2" text-anchor="end" textLength="17.15" lengthAdjust="spacingAndGlyphs">0.00</text>
<line x1="709.88" y1="574.25" x2="709.88" y2="633" stroke="#f5f5f5" stroke-width="1"/>
<line x1="709.88" y1="689" x2="709.88" y2="694.5" stroke="#f5f5f5" stroke-width="1"/>
<line x1="701.75" y1="574.25" x2="718" y2="574.25" stroke="#c2c2c2" stroke-width="0.9"/>
<line x1="701.75" y1="694.5" x2="718" y2="694.5" stroke="#c2c2c2" stroke-width="0.9"/>
<rect x="683.3" y="633.3" width="53.15" height="55.4" fill="#bfbfbf" stroke="#ababab" stroke-width="0.7"/>
<line x1="683" y1="653.25" x2="736.75" y2="653.25" stroke="#959595" stroke-width="0.8"/>
<path d="M709.1 649.6L710.9 651.4M709.1 651.4L710.9 649.6" stroke="#3a3a3a" stroke-width="0.85" fill="none"/>
<line x1="742.75" y1="708.8" x2="796.25" y2="708.8" stroke="#bdbdbd" stroke-width="0.9"/>
<path d="M768.6 707.5L770.4 709.3M768.6 709.3L770.4 707.5" stroke="#3a3a3a" stroke-width="0.85" fill="none"/>
<path d="M707.75 570V563.5H771.25V570" fill="none" stroke="#b8b8b8" stroke-width="0.75"/>
<text x="738.15" y="560.3" font-size="10.8" fill="#222222" stroke="#222" stroke-width="0.2" text-anchor="middle" textLength="52" lengthAdjust="spacingAndGlyphs"><tspan font-style="italic">p</tspan> < 0.0001</text>
<text transform="translate(628.85 627.25) rotate(-90)" font-size="13.8" font-weight="bold" fill="#000" stroke="#000" stroke-width="0.3" text-anchor="middle" textLength="56.7" lengthAdjust="spacingAndGlyphs">Camphor</text>
<text transform="translate(643.85 627.25) rotate(-90)" font-size="11.6" fill="#2a2a2a" stroke="#2a2a2a" stroke-width="0.3" text-anchor="middle" textLength="29.6" lengthAdjust="spacingAndGlyphs">(µg/L)</text>
<rect x="654.65" y="725.95" width="8.1" height="8.2" fill="#bfbfbf" stroke="#505050" stroke-width="0.9"/>
<text x="666" y="734.5" font-size="10.6" fill="#2c2c2c" stroke="#2c2c2c" stroke-width="0.2" textLength="70.2" lengthAdjust="spacingAndGlyphs">Natural Cork 1</text>
<rect x="757.9" y="725.95" width="8.1" height="8.2" fill="#787878" stroke="#424242" stroke-width="0.9"/>
<text x="769" y="734.9" font-size="10.6" fill="#2c2c2c" stroke="#2c2c2c" stroke-width="0.2" textLength="36.7" lengthAdjust="spacingAndGlyphs">Micro A</text>
</g>
<text class="ttl" x="10" y="24.5" font-weight="bold" font-size="25" fill="#000" textLength="169.5" lengthAdjust="spacingAndGlyphs">(a) Ethyl esters</text>
<text class="ttl" x="421.25" y="24.5" font-weight="bold" font-size="25" fill="#000" textLength="256.75" lengthAdjust="spacingAndGlyphs">(b) Strecker aldehydes</text>
<text class="ttl" x="10.5" y="276.6" font-weight="bold" font-size="25" fill="#000" textLength="214.5" lengthAdjust="spacingAndGlyphs">(c) Norisoprenoids</text>
<text class="ttl" x="625.5" y="276.4" font-weight="bold" font-size="25" fill="#000" textLength="145" lengthAdjust="spacingAndGlyphs">(d) Dioxanes</text>
<text class="ttl" x="10.5" y="524.5" font-weight="bold" font-size="25" fill="#000" textLength="275.75" lengthAdjust="spacingAndGlyphs">(e) Terpenic compounds</text>
</svg>
</body>
</html>
